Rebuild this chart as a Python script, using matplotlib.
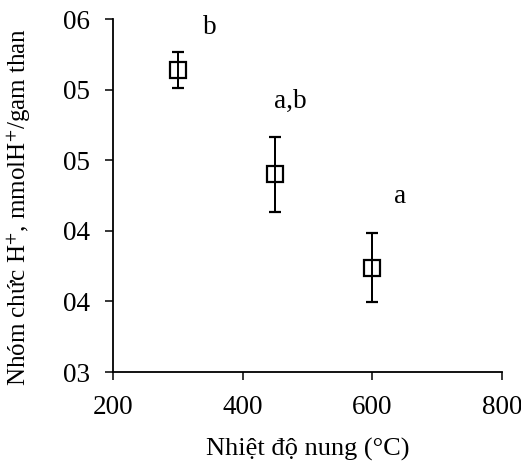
import matplotlib
matplotlib.use("Agg")
import matplotlib.pyplot as plt

# data
temps = [300, 450, 600]
h_groups = [0.514, 0.440, 0.374]
h_err = [0.0128, 0.0264, 0.0246]
letters = ["b", "a,b", "a"]
letter_x = [349, 474, 643]
letter_y = [0.544, 0.492, 0.424]

y_ticks = [0.30, 0.35, 0.40, 0.45, 0.50, 0.55]
y_tick_labels = ["03", "04", "04", "05", "05", "06"]
x_ticks = [200, 400, 600, 800]

plt.rcParams['font.family'] = ['Liberation Serif', 'DejaVu Serif']
plt.rcParams['mathtext.fontset'] = 'stix'

fig = plt.figure(figsize=(5.21, 4.66), dpi=100)
ax = fig.add_axes([0.217, 0.2017, 0.7465, 0.7573])

ax.errorbar(temps, h_groups, yerr=h_err, fmt='s', mfc='white', mec='black',
            mew=1.6, ms=11.5, ecolor='black', elinewidth=1.4, capsize=4.5,
            capthick=1.4, zorder=3)
# keep the bar line visible inside the open square as in the reference
ax.errorbar(temps, h_groups, yerr=h_err, fmt='none', ecolor='black',
            elinewidth=1.4, capsize=4.5, capthick=1.4, zorder=4)

for lx, ly, t in zip(letter_x, letter_y, letters):
    ax.text(lx, ly, t, fontsize=19.5, ha='center', va='center')

ax.set_xlim(200, 800)
ax.set_ylim(0.30, 0.55)
ax.set_xticks(x_ticks)
ax.set_yticks(y_ticks)
ax.set_yticklabels(y_tick_labels)

for s in ['top', 'right']:
    ax.spines[s].set_visible(False)
for s in ['left', 'bottom']:
    ax.spines[s].set_linewidth(1.3)

ax.tick_params(axis='both', direction='out', length=5.8, width=1.1,
               labelsize=19.5, pad=10.5)

ax.set_xlabel("Nhiệt độ nung (°C)", fontsize=19, labelpad=13)
ax.set_ylabel(r"Nhóm chức H$^{+}$, mmolH$^{+}$/gam than", fontsize=18)
ax.yaxis.set_label_coords(-0.205, 0.467)

fig.savefig("out.png", dpi=100)
